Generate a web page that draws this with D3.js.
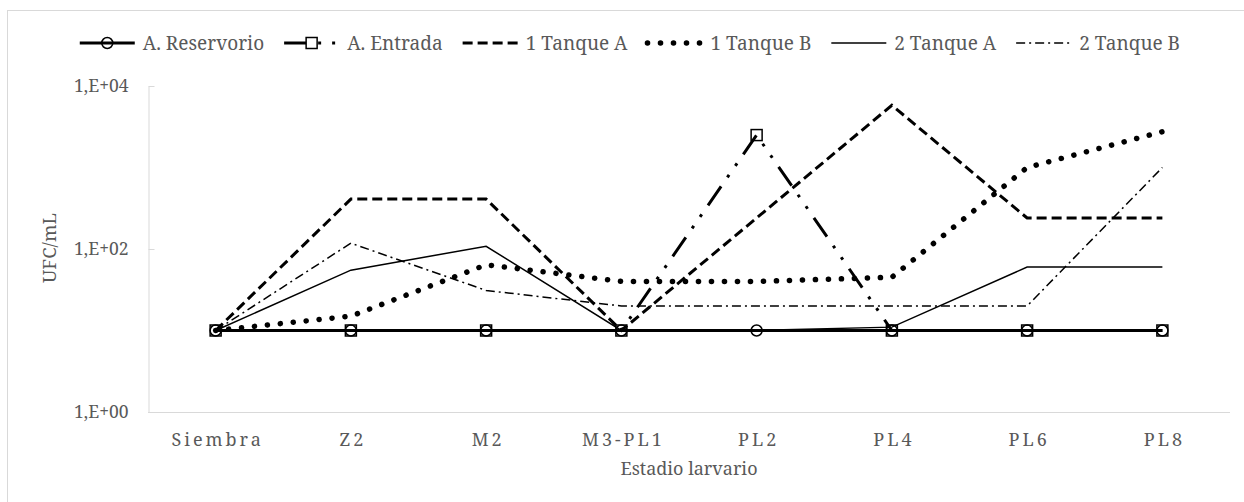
<!DOCTYPE html>
<html>
<head>
<meta charset="utf-8">
<script src="https://cdn.jsdelivr.net/npm/d3@7"></script>
<style>
  html, body { margin: 0; padding: 0; background: #fff; }
  svg { display: block; }
</style>
</head>
<body>
<svg id="chart" width="1244" height="502"></svg>
<script>
// ---- data ----
const categories = ["Siembra", "Z2", "M2", "M3-PL1", "PL2", "PL4", "PL6", "PL8"];
const seriesNames = ["A. Reservorio", "A. Entrada", "1 Tanque A", "1 Tanque B", "2 Tanque A", "2 Tanque B"];
const reservorio = [10, 10, 10, 10, 10, 10, 10, 10];
const entrada    = [10, 10, 10, 10, 2500, 10, 10, 10];
const tanque1A   = [10, 410, 410, 10, 240, 5800, 240, 240];
const tanque1B   = [10, 15, 64, 40, 40, 45, 1000, 2750];
const tanque2A   = [10, 55, 108, 10, 10, 11, 60, 60];
const tanque2B   = [10, 118, 31, 20, 20, 20, 20, 1000];
const yTickValues = [1, 100, 10000];
const yTickLabels = ["1,E+00", "1,E+02", "1,E+04"];
const yTitle = "UFC/mL";
const xTitle = "Estadio larvario";

// ---- styles ----
const FONT = "Noto Serif";
const TXT = "#595959";
const styles = [
  { w: 3,   dash: null,                    cap: "butt",  marker: "circle" },
  { w: 3,   dash: "23 11 3 11 3 11",       cap: "butt",  marker: "square" },
  { w: 3,   dash: "10 5",                  cap: "butt",  marker: null },
  { w: 5.5, dash: "0.1 12.9",              cap: "round", marker: null },
  { w: 1.5, dash: null,                    cap: "butt",  marker: null },
  { w: 1.5, dash: "9 4 2 4",               cap: "butt",  marker: null }
];
const allSeries = [reservorio, entrada, tanque1A, tanque1B, tanque2A, tanque2B];

const svg = d3.select("#chart");

svg.append("rect").attr("x", 7.5).attr("y", 10.5).attr("width", 1250).attr("height", 500)
  .attr("fill", "none").attr("stroke", "#d9d9d9").attr("stroke-width", 1);

const x = d3.scalePoint().domain(categories).range([148, 1230]).padding(0.5);
const y = d3.scaleLog().domain([1, 10000]).range([412, 86]);

const yAxis = d3.axisLeft(y).tickValues(yTickValues).tickSizeInner(-6).tickSizeOuter(0)
  .tickFormat((d, i) => yTickLabels[i]).tickPadding(20);
const gy = svg.append("g").attr("transform", "translate(148.5,0)").call(yAxis);
gy.attr("font-family", FONT);
gy.select(".domain").attr("stroke", "#d9d9d9");
gy.selectAll(".tick line").attr("stroke", "#d9d9d9");
gy.selectAll(".tick text").attr("font-size", 17.5).attr("fill", TXT);

const xAxis = d3.axisBottom(x).tickSize(0).tickSizeOuter(0).tickPadding(20);
const gx = svg.append("g").attr("transform", "translate(0,412.5)").call(xAxis);
gx.attr("font-family", FONT);
gx.select(".domain").attr("stroke", "#d9d9d9").attr("d", "M148,0H1230");
gx.selectAll(".tick text").attr("font-size", 18).attr("letter-spacing", "3px")
  .attr("dx", "1.5").attr("fill", TXT).attr("dy", null).attr("y", 33.5);

svg.append("text").attr("x", 689).attr("y", 475).attr("text-anchor", "middle").attr("fill", TXT)
  .attr("font-family", FONT).attr("font-size", 18).text(xTitle);
svg.append("text").attr("transform", "translate(56,248) rotate(-90)").attr("text-anchor", "middle").attr("fill", TXT)
  .attr("font-family", FONT).attr("font-size", 18.5).text(yTitle);

const line = d3.line().x((d, i) => x(categories[i])).y(d => y(d));
const plot = svg.append("g");
allSeries.forEach((s, k) => {
  const st = styles[k];
  plot.append("path").datum(s).attr("d", line)
    .attr("fill", "none").attr("stroke", "#000").attr("stroke-width", st.w)
    .attr("stroke-dasharray", st.dash).attr("stroke-linecap", st.cap)
    .attr("stroke-linejoin", "miter");
});
allSeries.forEach((s, k) => {
  const st = styles[k];
  if (st.marker === "circle") {
    plot.selectAll(null).data(s).enter().append("circle")
      .attr("cx", (d, i) => x(categories[i])).attr("cy", d => y(d)).attr("r", 5.5)
      .attr("fill", "none").attr("stroke", "#000").attr("stroke-width", 1.5);
  } else if (st.marker === "square") {
    plot.selectAll(null).data(s).enter().append("rect")
      .attr("x", (d, i) => x(categories[i]) - 5.5).attr("y", d => y(d) - 5.5)
      .attr("width", 11).attr("height", 11)
      .attr("fill", "none").attr("stroke", "#000").attr("stroke-width", 1.5);
  }
});

// legend: [symbol][gap][text][gap], right end at 1180
const symLen = 55, gapIn = 8, gapOut = 20, ly = 43, legendEnd = 1180;
const lg = svg.append("g");
const texts = seriesNames.map(name => lg.append("text").attr("y", ly + 6.5).attr("fill", TXT)
  .attr("font-family", FONT).attr("font-size", 19).text(name));
const widths = texts.map(t => t.node().getComputedTextLength());
const total = widths.reduce((a, b) => a + b, 0) + seriesNames.length * (symLen + gapIn) + (seriesNames.length - 1) * gapOut;
let cur = legendEnd - total;
seriesNames.forEach((name, k) => {
  const st = styles[k];
  const x0 = cur, x1 = cur + symLen;
  lg.append("path").attr("d", `M${x0},${ly}H${x1}`).attr("fill", "none")
    .attr("stroke", "#000").attr("stroke-width", st.w)
    .attr("stroke-dasharray", st.dash).attr("stroke-linecap", st.cap);
  const cx = (x0 + x1) / 2;
  if (st.marker === "circle") {
    lg.append("circle").attr("cx", cx).attr("cy", ly).attr("r", 5.5)
      .attr("fill", "none").attr("stroke", "#000").attr("stroke-width", 1.5);
  } else if (st.marker === "square") {
    lg.append("rect").attr("x", cx - 5.5).attr("y", ly - 5.5).attr("width", 11).attr("height", 11)
      .attr("fill", "#fff").attr("stroke", "#000").attr("stroke-width", 1.5);
  }
  texts[k].attr("x", x1 + gapIn);
  cur = x1 + gapIn + widths[k] + gapOut;
});
</script>
</body>
</html>
